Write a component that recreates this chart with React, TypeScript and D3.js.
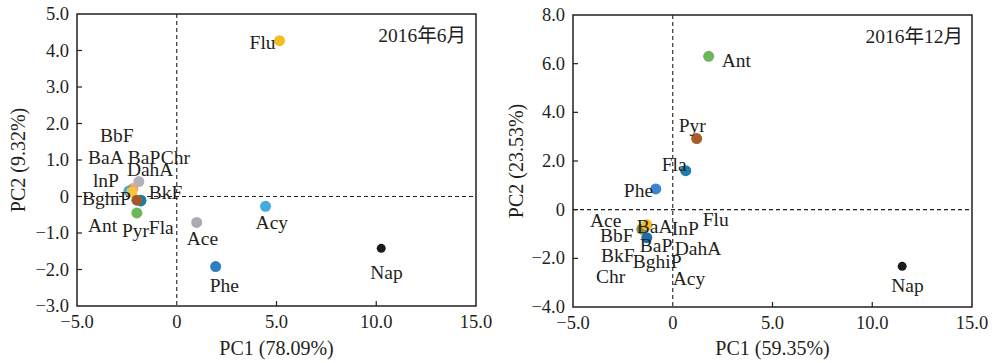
import React, { useRef, useEffect } from "react";
import * as d3 from "d3";

// June 2016 panel
const juneNames = ["Flu", "Acy", "Ace", "Phe", "Nap", "DahA", "lnP", "BbF", "BaA", "Chr", "BkF", "BaP", "Pyr"];
const juneX = [5.15, 4.45, 1.0, 1.95, 10.25, -1.9, -2.2, -2.4, -2.25, -1.8, -1.8, -2.0, -2.0];
const juneY = [4.27, -0.27, -0.71, -1.92, -1.42, 0.41, 0.22, 0.15, 0.12, -0.1, -0.12, -0.1, -0.45];
const juneColors = ["#f5bc24", "#45aae0", "#a9adb3", "#2e7ec6", "#1a1a1a", "#b0b4ba", "#eda584", "#45aae0", "#f8c53a", "#1b7baa", "#1b7baa", "#a0592a", "#6db65b"];

const juneLabels = ["BbF", "BaA", "BaP", "Chr", "DahA", "lnP", "BghiP", "BkF", "Ant", "Pyr", "Fla", "Ace", "Acy", "Phe", "Nap", "Flu"];
const juneLabelX = [-3.85, -4.45, -2.45, -0.8, -2.5, -4.2, -4.75, -1.4, -4.45, -2.75, -1.4, 0.5, 3.95, 1.65, 9.7, 3.65];
const juneLabelY = [1.48, 0.88, 0.88, 0.88, 0.55, 0.27, -0.22, -0.08, -0.96, -1.1, -1.04, -1.34, -0.9, -2.63, -2.27, 4.05];

// December 2016 panel
const decNames = ["Ant", "Pyr", "Fla", "Phe", "Nap", "BbF", "BaA", "BaP"];
const decX = [1.8, 1.2, 0.65, -0.85, 11.5, -1.55, -1.3, -1.3];
const decY = [6.3, 2.92, 1.6, 0.85, -2.33, -0.8, -0.62, -1.15];
const decColors = ["#6db65b", "#a65e2a", "#1a7dae", "#3a86d0", "#1a1a1a", "#8a8f3a", "#f5bc24", "#1f6ea8"];

const decLabels = ["Ant", "Pyr", "Fla", "Phe", "Ace", "BbF", "BaA", "InP", "Flu", "BaP", "DahA", "BkF", "BghiP", "Chr", "Acy", "Nap"];
const decLabelX = [2.45, 0.3, -0.55, -2.45, -4.15, -3.65, -1.8, -0.05, 1.5, -1.65, 0.1, -3.6, -2.0, -3.85, 0.0, 10.95];
const decLabelY = [5.88, 3.2, 1.6, 0.53, -0.7, -1.32, -0.95, -1.03, -0.66, -1.73, -1.85, -2.14, -2.39, -3.0, -3.09, -3.37];

const xTicks = [-5, 0, 5, 10, 15];
const juneYTicks = [-3, -2, -1, 0, 1, 2, 3, 4, 5];
const decYTicks = [-4, -2, 0, 2, 4, 6, 8];

const FONT = "'Liberation Serif', 'Times New Roman', 'Noto Sans CJK SC', serif";
const INK = "#231f20";

const fmt = (v: number) => (v === 0 ? "0" : (v < 0 ? "\u2212" : "") + Math.abs(v).toFixed(1));

const App = () => {
  const svgRef = useRef<SVGSVGElement>(null);

  useEffect(() => {
    const svg = d3.select(svgRef.current).attr("width", 994).attr("height", 363).html("");

    const drawPanel = (opts: any) => {
      const { left, right, top, bottom, yDomain, yTicks, names, xs, ys, colors, labels, lx, ly, title, titleX, xLabel, yLabel, yLabelX } = opts;
      const x = d3.scaleLinear().domain([-5, 15]).range([left, right]);
      const y = d3.scaleLinear().domain(yDomain).range([bottom, top]);
      const g = svg.append("g");

      // dashed zero lines
      g.append("line")
        .attr("x1", x(0)).attr("x2", x(0)).attr("y1", top).attr("y2", bottom)
        .attr("stroke", INK).attr("stroke-width", 1.1).attr("stroke-dasharray", "4,3");
      g.append("line")
        .attr("x1", left).attr("x2", right).attr("y1", y(0)).attr("y2", y(0))
        .attr("stroke", INK).attr("stroke-width", 1.1).attr("stroke-dasharray", "4,3");

      // frame
      g.append("rect")
        .attr("x", left).attr("y", top).attr("width", right - left).attr("height", bottom - top)
        .attr("fill", "none").attr("stroke", INK).attr("stroke-width", 1.5);

      // ticks (inward)
      xTicks.forEach((t) => {
        if (t !== -5 && t !== 15 && t !== 0) {
          g.append("line").attr("x1", x(t)).attr("x2", x(t)).attr("y1", bottom).attr("y2", bottom - 5)
            .attr("stroke", INK).attr("stroke-width", 1.2);
        }
        g.append("text").attr("x", x(t)).attr("y", bottom + 22).attr("text-anchor", "middle")
          .attr("font-family", FONT).attr("font-size", 18.5).attr("fill", INK).text(fmt(t));
      });
      yTicks.forEach((t: number) => {
        if (t !== yDomain[0] && t !== yDomain[1]) {
          g.append("line").attr("x1", left).attr("x2", left + 5).attr("y1", y(t)).attr("y2", y(t))
            .attr("stroke", INK).attr("stroke-width", 1.2);
        }
        g.append("text").attr("x", left - 8).attr("y", y(t) + 6).attr("text-anchor", "end")
          .attr("font-family", FONT).attr("font-size", 18.5).attr("fill", INK).text(fmt(t));
      });

      // points
      names.forEach((n: string, i: number) => {
        g.append("circle").attr("cx", x(xs[i])).attr("cy", y(ys[i]))
          .attr("r", n === "Nap" ? 4.5 : 5.5).attr("fill", colors[i]);
      });

      // labels
      labels.forEach((l: string, i: number) => {
        g.append("text").attr("x", x(lx[i])).attr("y", y(ly[i]))
          .attr("font-family", FONT).attr("font-size", 19.5).attr("fill", INK).text(l);
      });

      g.append("text").attr("x", titleX).attr("y", top + 28).attr("text-anchor", "end")
        .attr("font-family", FONT).attr("font-size", 19.5).attr("fill", INK).text(title);

      g.append("text").attr("x", (left + right) / 2).attr("y", 355).attr("text-anchor", "middle")
        .attr("font-family", FONT).attr("font-size", 20).attr("fill", INK).text(xLabel);
      g.append("text").attr("transform", `translate(${yLabelX},${(top + bottom) / 2}) rotate(-90)`)
        .attr("text-anchor", "middle").attr("font-family", FONT).attr("font-size", 20).attr("fill", INK).text(yLabel);
    };

    drawPanel({
      left: 77, right: 476, top: 14, bottom: 306, yDomain: [-3, 5], yTicks: juneYTicks,
      names: juneNames, xs: juneX, ys: juneY, colors: juneColors,
      labels: juneLabels, lx: juneLabelX, ly: juneLabelY,
      title: "2016年6月", titleX: 466, xLabel: "PC1 (78.09%)", yLabel: "PC2 (9.32%)", yLabelX: 25,
    });
    drawPanel({
      left: 573, right: 972, top: 15, bottom: 307, yDomain: [-4, 8], yTicks: decYTicks,
      names: decNames, xs: decX, ys: decY, colors: decColors,
      labels: decLabels, lx: decLabelX, ly: decLabelY,
      title: "2016年12月", titleX: 963, xLabel: "PC1 (59.35%)", yLabel: "PC2 (23.53%)", yLabelX: 523,
    });
  }, []);

  return <svg ref={svgRef} style={{ position: "absolute", left: 0, top: 0, background: "#fff" }} />;
};

export default App;
